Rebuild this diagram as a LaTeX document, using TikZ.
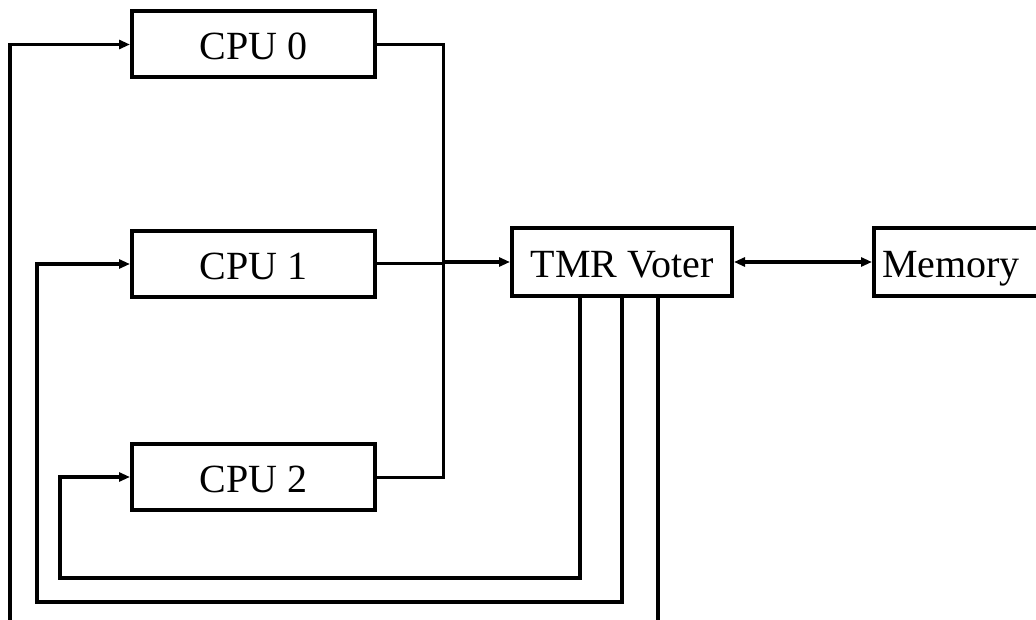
\documentclass[tikz,border=0pt]{standalone}
\usepackage{fontspec}
\setmainfont{Liberation Serif}
\usetikzlibrary{arrows.meta}
\begin{document}
\begin{tikzpicture}[x=1pt,y=-1pt,
  unit/.style={draw, line width=4pt, rectangle, inner sep=0pt,
    text height=31pt, text depth=0pt,
    font=\fontsize{40}{48}\selectfont},
  cpubox/.style={unit, minimum width=243pt, minimum height=66pt},
  wire/.style={line width=3.6pt},
  thinwire/.style={line width=3pt},
  tip/.style={-{Triangle[length=11pt,width=9pt]}},
  bitip/.style={{Triangle[length=11pt,width=9pt]}-{Triangle[length=11pt,width=9pt]}}]
  \useasboundingbox (0,0) rectangle (1036,620);
  \clip (0,0) rectangle (1036,620);

  % processors, voter and memory
  \node[cpubox] (cpu0) at (253.5,44.5) {CPU 0};
  \node[cpubox] (cpu1) at (253.5,264) {CPU 1};
  \node[cpubox] (cpu2) at (253.5,477) {CPU 2};
  \node[unit, minimum width=220pt, minimum height=68pt] (tmr) at (622,262) {TMR Voter};
  \node[unit, anchor=west, minimum height=68pt, text width=230pt, align=left,
        inner xsep=8pt] (mem) at (872,262) {Memory};

  % bus junction between the processors and the voter
  \coordinate (bus) at (443,262);
  \coordinate (busin) at ([xshift=68pt]cpu1.east);

  % processor outputs into the voter
  \draw[thinwire] (cpu0.east) -| (bus);
  \draw[thinwire] (cpu2.east) -| (bus);
  \draw[thinwire] (cpu1.east) -- (busin);
  \draw[wire, tip] (bus) -- (tmr.west);

  % voter <-> memory
  \draw[wire, bitip] (tmr.east) -- (mem.west);

  % voted results fed back to each processor
  \coordinate (fb2) at (580,296);
  \coordinate (fb1) at (622,296);
  \coordinate (fb0) at (658,296);
  \draw[wire, tip] (fb2) -- (580,578) -- (60,578) |- (cpu2.west);
  \draw[wire, tip] (fb1) -- (622,602) -- (37,602) |- (cpu1.west);
  \draw[wire, tip] (fb0) -- (658,650) -- (10,650) |- (cpu0.west);
\end{tikzpicture}
\end{document}
